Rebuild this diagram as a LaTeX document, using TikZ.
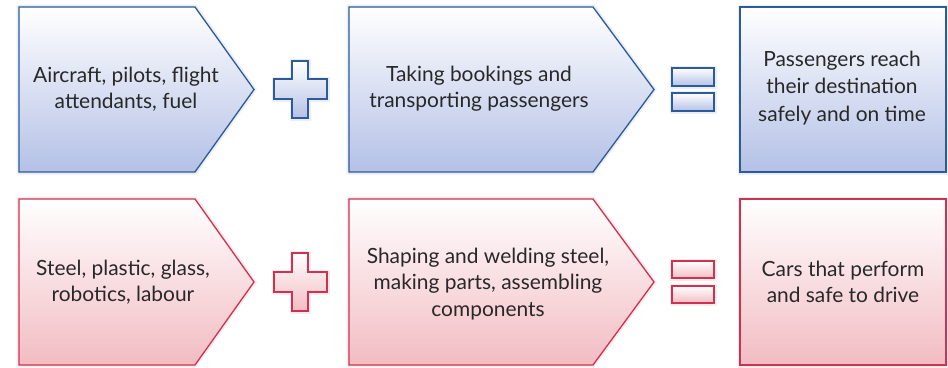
\documentclass[tikz,border=0pt]{standalone}
\usepackage{fontspec}
\setmainfont{Lato}
\usetikzlibrary{positioning}
\definecolor{blueline}{RGB}{45,90,155}
\definecolor{bluefill}{RGB}{180,193,230}
\definecolor{redline}{RGB}{205,50,80}
\definecolor{redfill}{RGB}{242,188,194}
\definecolor{ink}{RGB}{40,40,40}

\begin{document}
\begin{tikzpicture}[x=1bp,y=-1bp]
	\tikzstyle{blueshape}=[draw=blueline, line width=1.3bp, top color=white, bottom color=bluefill]
	\tikzstyle{redshape}=[draw=redline, line width=1.3bp, top color=white, bottom color=redfill]
	\tikzstyle{blueglow}=[draw=blueline!25, line width=5bp, opacity=0.4]
	\tikzstyle{redglow}=[draw=redline!25, line width=5bp, opacity=0.4]
	\tikzstyle{txt}=[align=center, text=ink, font=\fontsize{21}{26}\selectfont]
	
	\useasboundingbox (0,0) rectangle (948,367);
	
	% top row: airline
	\draw [blueglow] (19,7) -- (195,7) -- (254,89.5) -- (195,172) -- (19,172) -- cycle;
	\draw [blueshape] (19,7) -- (195,7) -- (254,89.5) -- (195,172) -- (19,172) -- cycle;
	\node [txt] (in1) at (126,89) {Aircraft, pilots, flight\\attendants, fuel};
	
	\draw [blueglow] (292,61) -- (308,61) -- (308,79) -- (327,79) -- (327,99) -- (308,99) -- (308,118) -- (292,118) -- (292,99) -- (274,99) -- (274,79) -- (292,79) -- cycle;
	\draw [blueshape] (292,61) -- (308,61) -- (308,79) -- (327,79) -- (327,99) -- (308,99) -- (308,118) -- (292,118) -- (292,99) -- (274,99) -- (274,79) -- (292,79) -- cycle;
	
	\draw [blueglow] (349,7) -- (593,7) -- (654,89.5) -- (593,172) -- (349,172) -- cycle;
	\draw [blueshape] (349,7) -- (593,7) -- (654,89.5) -- (593,172) -- (349,172) -- cycle;
	\node [txt] (proc1) at (479,89) {Taking bookings and\\transporting passengers};
	
	\draw [blueglow] (672,68) rectangle (714,86);
	\draw [blueshape] (672,68) rectangle (714,86);
	\draw [blueglow] (672,93) rectangle (714,111);
	\draw [blueshape] (672,93) rectangle (714,111);
	
	\draw [blueglow] (740,7) rectangle (946,172);
	\draw [blueshape] (740,7) rectangle (946,172);
	\node [txt, font=\fontsize{21}{27.5}\selectfont] (out1) at (842,88) {Passengers reach\\their destination\\safely and on time};
	
	% bottom row: cars
	\draw [redglow] (19,199) -- (195,199) -- (254,282) -- (195,365) -- (19,365) -- cycle;
	\draw [redshape] (19,199) -- (195,199) -- (254,282) -- (195,365) -- (19,365) -- cycle;
	\node [txt] (in2) at (123,282) {Steel, plastic, glass,\\robotics, labour};
	
	\draw [redglow] (292,253) -- (308,253) -- (308,272) -- (327,272) -- (327,292) -- (308,292) -- (308,311) -- (292,311) -- (292,292) -- (274,292) -- (274,272) -- (292,272) -- cycle;
	\draw [redshape] (292,253) -- (308,253) -- (308,272) -- (327,272) -- (327,292) -- (308,292) -- (308,311) -- (292,311) -- (292,292) -- (274,292) -- (274,272) -- (292,272) -- cycle;
	
	\draw [redglow] (349,199) -- (593,199) -- (654,282) -- (593,365) -- (349,365) -- cycle;
	\draw [redshape] (349,199) -- (593,199) -- (654,282) -- (593,365) -- (349,365) -- cycle;
	\node [txt, font=\fontsize{21}{27}\selectfont] (proc2) at (488,284) {Shaping and welding steel,\\making parts, assembling\\components};
	
	\draw [redglow] (672,261) rectangle (714,278);
	\draw [redshape] (672,261) rectangle (714,278);
	\draw [redglow] (672,286) rectangle (714,303);
	\draw [redshape] (672,286) rectangle (714,303);
	
	\draw [redglow] (740,199) rectangle (946,365);
	\draw [redshape] (740,199) rectangle (946,365);
	\node [txt] (out2) at (843,282) {Cars that perform\\and safe to drive};
\end{tikzpicture}
\end{document}
